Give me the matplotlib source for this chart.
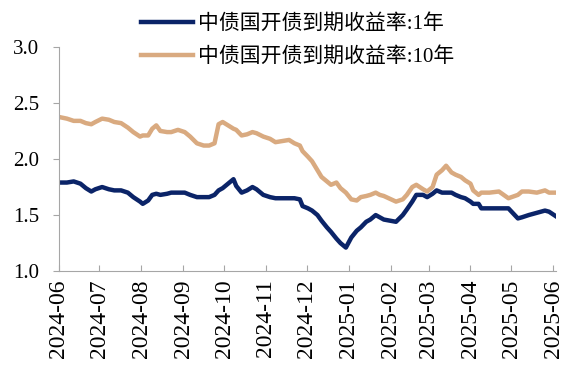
import pandas as pd
import matplotlib
matplotlib.use("Agg")
import matplotlib.pyplot as plt
import matplotlib.dates as mdates

plt.rcParams['font.family'] = ['Liberation Serif', 'Noto Sans CJK SC']

# 日期与收益率 (%)
dates = ["2024-06-03", "2024-06-07", "2024-06-12", "2024-06-17", "2024-06-21", "2024-06-25",
         "2024-06-28", "2024-07-03", "2024-07-08", "2024-07-12", "2024-07-17", "2024-07-22",
         "2024-07-26", "2024-07-31", "2024-08-02", "2024-08-06", "2024-08-09", "2024-08-12",
         "2024-08-15", "2024-08-20", "2024-08-23", "2024-08-28", "2024-09-02", "2024-09-06",
         "2024-09-11", "2024-09-16", "2024-09-20", "2024-09-24", "2024-09-27", "2024-09-30",
         "2024-10-08", "2024-10-10", "2024-10-14", "2024-10-18", "2024-10-22", "2024-10-25",
         "2024-10-30", "2024-11-04", "2024-11-08", "2024-11-13", "2024-11-18", "2024-11-22",
         "2024-11-26", "2024-11-28", "2024-12-02", "2024-12-05", "2024-12-09", "2024-12-12",
         "2024-12-16", "2024-12-19", "2024-12-23", "2024-12-26", "2024-12-30", "2025-01-03",
         "2025-01-07", "2025-01-10", "2025-01-14", "2025-01-17", "2025-01-21", "2025-01-24",
         "2025-01-27", "2025-02-05", "2025-02-10", "2025-02-13", "2025-02-17", "2025-02-20",
         "2025-02-25", "2025-02-28", "2025-03-04", "2025-03-07", "2025-03-11", "2025-03-14",
         "2025-03-18", "2025-03-21", "2025-03-25", "2025-03-28", "2025-04-01", "2025-04-03",
         "2025-04-07", "2025-04-09", "2025-04-15", "2025-04-22", "2025-04-29", "2025-05-06",
         "2025-05-09", "2025-05-14", "2025-05-20", "2025-05-26", "2025-05-29", "2025-06-03"]

y1 = [1.79, 1.79, 1.80, 1.78, 1.74, 1.71, 1.73, 1.75, 1.73, 1.72, 1.72, 1.70,
      1.66, 1.62, 1.60, 1.63, 1.68, 1.69, 1.68, 1.69, 1.70, 1.70, 1.70, 1.68,
      1.66, 1.66, 1.66, 1.68, 1.72, 1.74, 1.82, 1.76, 1.70, 1.72, 1.75, 1.73,
      1.68, 1.66, 1.65, 1.65, 1.65, 1.65, 1.64, 1.58, 1.56, 1.54, 1.50, 1.45,
      1.39, 1.35, 1.29, 1.25, 1.21, 1.30, 1.36, 1.39, 1.44, 1.46, 1.50, 1.48,
      1.46, 1.44, 1.50, 1.55, 1.62, 1.68, 1.68, 1.66, 1.69, 1.72, 1.70, 1.70,
      1.70, 1.68, 1.66, 1.65, 1.62, 1.60, 1.60, 1.56, 1.56, 1.56, 1.56, 1.47,
      1.48, 1.50, 1.52, 1.54, 1.53, 1.49]

y10 = [2.37, 2.36, 2.34, 2.34, 2.32, 2.31, 2.33, 2.36, 2.35, 2.33, 2.32, 2.28,
       2.24, 2.20, 2.21, 2.21, 2.27, 2.30, 2.25, 2.24, 2.24, 2.26, 2.24, 2.20,
       2.14, 2.12, 2.12, 2.14, 2.31, 2.33, 2.27, 2.26, 2.21, 2.22, 2.24, 2.23,
       2.20, 2.18, 2.15, 2.16, 2.17, 2.14, 2.12, 2.07, 2.02, 1.98, 1.90, 1.84,
       1.80, 1.77, 1.79, 1.74, 1.70, 1.64, 1.63, 1.66, 1.67, 1.68, 1.70, 1.68,
       1.67, 1.62, 1.64, 1.68, 1.75, 1.77, 1.73, 1.71, 1.75, 1.86, 1.90, 1.94,
       1.88, 1.86, 1.84, 1.81, 1.78, 1.72, 1.68, 1.70, 1.70, 1.71, 1.65, 1.68,
       1.71, 1.71, 1.70, 1.72, 1.70, 1.70]

labels = ["中债国开债到期收益率:1年", "中债国开债到期收益率:10年"]
colors = ["#0B2468", "#D9AA80"]

x = pd.to_datetime(dates)

fig = plt.figure(figsize=(5.82, 3.75), dpi=100)
ax = fig.add_axes([0.101, 0.277, 0.854, 0.598])

ax.plot(x, y1, color=colors[0], lw=3.2, label=labels[0])
ax.plot(x, y10, color=colors[1], lw=3.2, label=labels[1])

ax.set_ylim(1.0, 3.0)
ax.set_yticks([1.0, 1.5, 2.0, 2.5, 3.0])
ax.yaxis.set_major_formatter(plt.FormatStrFormatter('%.1f'))
ax.set_xlim(pd.Timestamp("2024-06-01"), pd.Timestamp("2025-06-03"))
ax.xaxis.set_major_locator(mdates.MonthLocator())
ax.xaxis.set_major_formatter(mdates.DateFormatter('%Y-%m'))
plt.setp(ax.get_xticklabels(), rotation=90)

for s in ['top', 'right']:
    ax.spines[s].set_visible(False)
for s in ['left', 'bottom']:
    ax.spines[s].set_color('#A6A6A6')
ax.tick_params(axis='y', direction='out', length=4, color='#A6A6A6', labelsize=15, pad=10)
ax.tick_params(axis='x', direction='in', length=4, color='#A6A6A6', labelsize=17, pad=6)

fig.legend(loc='upper left', bbox_to_anchor=(0.224, 0.99), frameon=False, fontsize=15,
           handlelength=2.5, handletextpad=0.25, labelspacing=0.65, borderpad=0)

fig.savefig("out.png", dpi=100)
